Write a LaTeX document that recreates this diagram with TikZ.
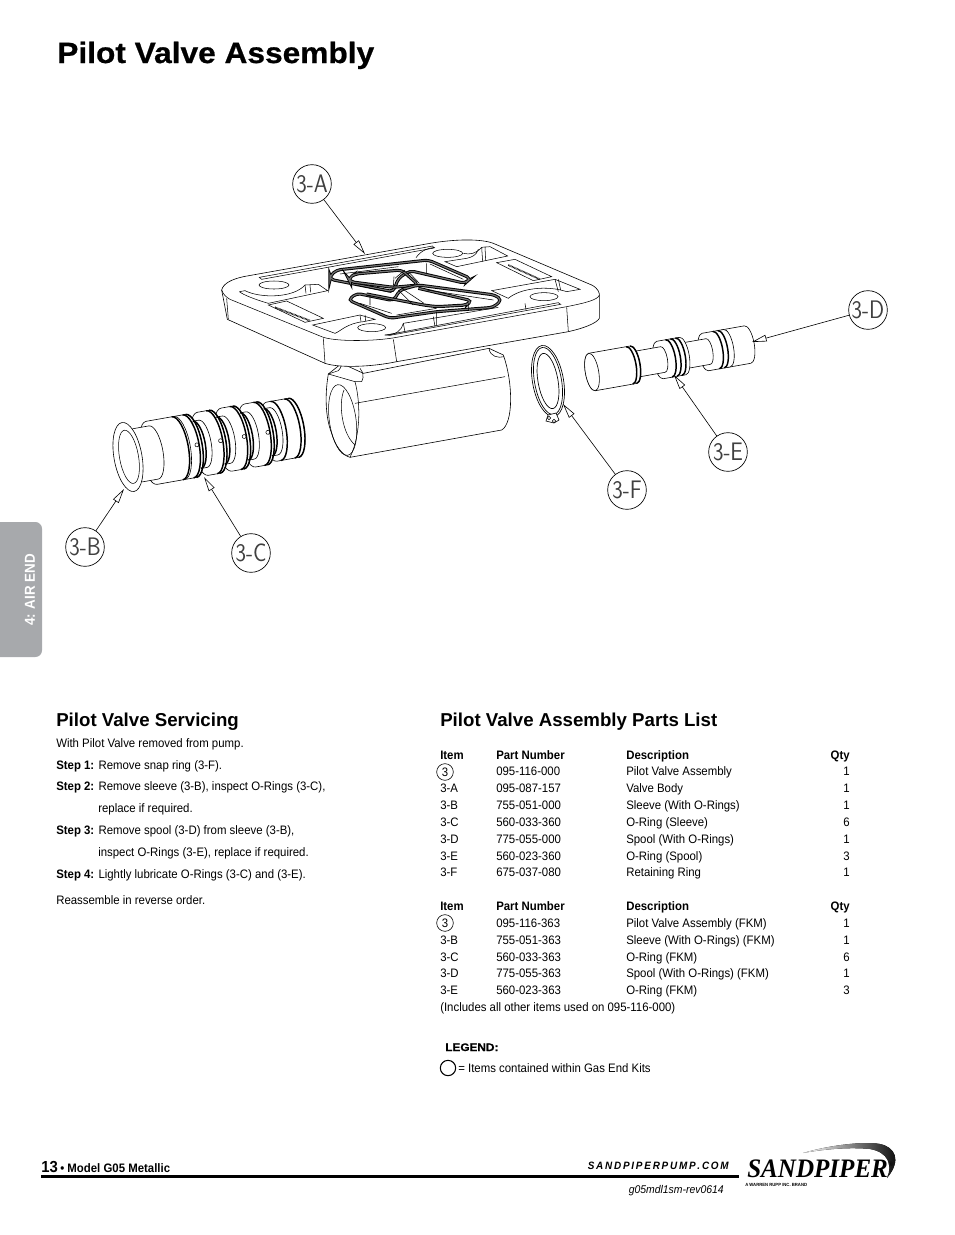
\documentclass[tikz,border=0pt]{standalone}
\usepackage{fontspec}
\setmainfont{Liberation Sans}
\newfontfamily\narrowfont[FakeStretch=0.93]{Liberation Sans}
\newfontfamily\titlefont[FakeStretch=1.08, BoldFeatures={FakeBold=0.7}]{Liberation Sans}
\newfontfamily\cadfont[FakeStretch=0.88]{Latin Modern Sans}
\newfontfamily\logofont[FakeStretch=0.94]{Liberation Serif}
\usetikzlibrary{arrows.meta}
\definecolor{tabgray}{HTML}{A7A9AC}
\tikzset{
  part/.style={draw=black, fill=white, line width=.45pt},
  edge/.style={draw=black, line width=.4pt},
  gasket/.style={draw=black, line width=.7pt, double=black!55, double distance=.9pt, rounded corners=3pt},
  callout/.style={draw=black, circle, line width=.5pt, fill=white, minimum size=29pt, inner sep=0pt, font=\cadfont\fontsize{19}{19}\selectfont, text=black!75},
  leader/.style={draw=black, line width=.45pt, -{Triangle[open, fill=white, length=11pt, width=5pt]}},
  txt/.style={anchor=base west, inner sep=0pt, font=\narrowfont\fontsize{9.2}{10}\selectfont},
  txtb/.style={txt, font=\narrowfont\bfseries\fontsize{9.2}{10}\selectfont},
  mark3/.style={draw=black, circle, line width=.45pt, minimum size=12.5pt, inner sep=0pt, font=\narrowfont\fontsize{9.2}{10}\selectfont},
}
% one section of a round part, far end bulging right
\newcommand{\barrel}[3]{
  \draw[part] (#1,-#3) -- (#2,-#3) arc[start angle=-90, end angle=90, x radius=.35*#3, y radius=#3]
    -- (#1,#3) arc[start angle=90, end angle=270, x radius=.35*#3, y radius=#3] -- cycle;
}
\newcommand{\oring}[2]{
  \draw[draw=black, line width=1.1pt] (#1,-#2) arc[start angle=-90, end angle=90, x radius=.35*#2, y radius=#2];
}
\begin{document}
\begin{tikzpicture}[x=.75pt, y=-.75pt]
\useasboundingbox (0,0) rectangle (954,1235);

% Title and side tab
\node[anchor=base west, inner sep=0pt, font=\titlefont\bfseries\fontsize{22}{24}\selectfont] (title) at (57,63) {Pilot Valve Assembly};
\fill[tabgray, rounded corners=5pt] (-10,522) rectangle (42,657);
\node[rotate=90, inner sep=0pt, text=white, font=\narrowfont\bfseries\fontsize{10.8}{11}\selectfont] (tab) at (30,590) {4: AIR END};

% Lower body
\begin{scope}[shift={(310,340)}, x=.25pt, y=-.25pt]
  \draw[part] (55,102) .. controls (45,160) and (45,230) .. (65,280) .. controls (75,315) and (95,345) .. (120,352) -- (575,270) .. controls (610,250) and (610,130) .. (580,45) -- (537,25) -- (160,100) -- (95,70) -- cycle;
  \draw[edge] (537,25) .. controls (540,50) and (565,55) .. (582,50);
  \draw[edge] (55,102) -- (85,92) .. controls (90,88) and (92,82) .. (95,75);
  \draw[edge] (55,102) -- (135,125) -- (155,125) .. controls (160,118) and (160,108) .. (158,98) -- (150,85);
  \draw[edge] (135,125) .. controls (150,180) and (155,280) .. (120,352);
  \draw[edge, rotate around={8:(98,240)}] (98,240) ellipse (40 and 107);
  \draw[edge] (102,150) .. controls (85,190) and (95,280) .. (135,315);
  \draw[edge] (135,190) -- (585,110);
\end{scope}

% Valve body plate
\begin{scope}[shift={(200,220)}, x=.25pt, y=-.25pt]
  \draw[part] (65,210) .. controls (70,190) and (95,178) .. (130,170) -- (690,70) .. controls (760,58) and (840,55) .. (880,70)
    -- (1175,195) .. controls (1195,205) and (1200,220) .. (1198,230) -- (1198,295) .. controls (1190,310) and (1150,325) .. (1105,335)
    -- (590,425) .. controls (520,440) and (420,445) .. (375,430) -- (82,298) -- cycle;
  \draw[edge] (65,210) .. controls (70,225) and (80,232) .. (90,238) -- (365,350) .. controls (400,365) and (520,365) .. (590,352)
    -- (1100,260) .. controls (1150,250) and (1195,240) .. (1198,225);
  \draw[edge] (80,235) -- (85,298) (370,355) -- (375,430) (580,358) -- (590,425) (1100,262) -- (1105,335);
  % Slots
  \draw[edge] (178,172) -- (698,78) -- (702,84) -- (185,178) -- cycle;
  \draw[edge] (558,345) -- (1075,248) -- (1082,253) -- (570,346) -- cycle;
  % Holes
  \draw[edge] (222,195) ellipse (45 and 12) (743,100) ellipse (45 and 12) (1032,230) ellipse (42 and 12) (515,323) ellipse (42 and 12);
  % Pockets
  \draw[edge] (118,215) -- (135,212) .. controls (180,235) and (280,235) .. (315,195) -- (355,193) -- (383,212) -- (205,250) .. controls (170,240) and (130,225) .. (118,215);
  \draw[edge] (315,195) -- (318,220) (330,195) -- (332,217);
  \draw[edge] (648,113) .. controls (665,88) and (690,84) .. (705,82) (790,100) .. controls (810,105) and (830,100) .. (845,82) -- (870,80) -- (923,108) -- (770,140) -- (735,125) -- (800,115) .. controls (815,112) and (830,105) .. (835,88);
  \draw[edge] (845,82) -- (848,125) (855,80) -- (857,122);
  \draw[edge] (205,255) -- (260,243) -- (370,295) -- (315,307) -- cycle;
  \draw[draw=black, line width=1.3pt, dash pattern=on .5pt off .5pt] (225,262) -- (330,302);
  \draw[edge] (890,128) -- (945,118) -- (1055,170) -- (1000,182) -- cycle;
  \draw[draw=black, line width=1.3pt, dash pattern=on .5pt off .5pt] (925,135) -- (1020,178);
  \draw[edge] (875,212) -- (1065,178) -- (1140,208) -- (1100,215) .. controls (1040,195) and (960,205) .. (925,235) -- cycle;
  \draw[edge] (1065,178) -- (1075,215) (1075,178) -- (1082,210);
  \draw[edge] (338,315) -- (480,285) -- (525,298) -- (490,305) .. controls (440,310) and (420,335) .. (405,340) -- cycle;
  \draw[edge] (480,285) -- (483,305) (495,285) -- (497,303);
  \draw[edge] (555,345) .. controls (590,345) and (605,330) .. (610,310) -- (895,262);
  \draw[edge] (700,290) -- (705,320) (975,250) -- (978,270) (610,310) -- (615,335);
\end{scope}

% Gasket grooves
\begin{scope}[shift={(330,250)}, x=.25pt, y=-.25pt]
  \draw[gasket] (0,78) -- (20,60) -- (295,30) -- (422,85) -- (405,100) -- (240,62) -- (205,85) -- (190,125) -- (0,88) -- cycle;
  \draw[gasket] (55,85) -- (75,72) -- (215,60) -- (265,105) -- (190,112) -- (60,95) -- cycle;
  \draw[gasket] (55,150) -- (80,130) -- (190,152) -- (210,120) -- (265,105) -- (495,135) -- (515,150) -- (490,172) -- (320,185) -- (180,205) -- cycle;
  \draw[gasket] (110,132) -- (280,165) -- (320,170) -- (410,165) -- (425,152) -- (265,115);
  \draw[edge] (195,85) -- (225,60) (235,65) -- (268,100) (205,120) -- (250,165) (215,115) -- (282,160);
  \draw[edge] (192,80) -- (190,110) (120,135) -- (120,165) (290,40) -- (290,70) (320,185) -- (320,225) (415,160) -- (415,180);
  \draw[edge] (30,72) -- (205,50) (75,105) -- (185,128) (90,160) -- (185,190) (300,42) -- (400,88) (290,120) -- (490,150) (200,195) -- (320,175);
\end{scope}

% Sleeve
\begin{scope}[shift={(128,457)}, rotate=10]
  \barrel{146}{168}{30}
  \oring{168}{30}
  \oring{164}{30}
  \oring{150}{30}
  \foreach \xa in {124,100,76,52}{
    \barrel{\xa+10}{\xa+24}{24}
    \barrel{\xa}{\xa+12}{32}
    \oring{\xa+12}{32}
    \oring{\xa+9}{32}
    \oring{\xa+18}{24}
  }
  \barrel{24}{52}{32}
  \oring{50}{32}
  \barrel{10}{26}{27}
  \draw[part] (0,0) ellipse (14 and 35);
  \draw[edge] (1,0) ellipse (9.5 and 27);
  \foreach \xh in {52,76,100,124}
    \draw[edge] (\xh+18,0) circle (2);
\end{scope}

% Retaining ring
\begin{scope}[shift={(548,381)}, rotate=10]
  \draw[edge, line width=.5pt] (0,0) ellipse (15.5 and 36);
  \draw[edge, line width=.5pt] (0,0) ellipse (13.5 and 34);
  \draw[edge, line width=.5pt] (0,0) ellipse (10 and 28);
\end{scope}
\draw[part] (548,415) -- (556,413) -- (559,420) -- (554,423) -- (546,421) -- cycle;
\draw[edge] (549,418) circle (1.8) (554,421) circle (1.8);

% Spool
\begin{scope}[shift={(592,372)}, rotate=10]
  \barrel{135}{158}{19}
  \barrel{115}{137}{19}
  \oring{131}{19}
  \oring{126}{19}
  \barrel{92}{118}{13}
  \barrel{69}{92}{19}
  \oring{88}{19}
  \oring{83}{19}
  \oring{78}{19}
  \barrel{44}{72}{13}
  \barrel{0}{42}{19}
  \oring{42}{19}
  \oring{38}{19}
  \draw[part] (0,0) ellipse (6.7 and 19);
\end{scope}

% Callouts
\node[callout] (calloutA) at (312,184) {3-A};
\node[callout] (calloutD) at (868,310) {3-D};
\node[callout] (calloutE) at (728,452) {3-E};
\node[callout] (calloutF) at (627,490) {3-F};
\node[callout] (calloutB) at (85,547) {3-B};
\node[callout] (calloutC) at (251,553) {3-C};
\coordinate (tipA) at (365,254);
\coordinate (tipD) at (752,342);
\coordinate (tipE) at (674,375);
\coordinate (tipF) at (563,404);
\coordinate (tipB) at (124,489);
\coordinate (tipC) at (204,477);
\draw[leader] (calloutA) -- (tipA);
\draw[leader] (calloutD) -- (tipD);
\draw[leader] (calloutE) -- (tipE);
\draw[leader] (calloutF) -- (tipF);
\draw[leader] (calloutB) -- (tipB);
\draw[leader] (calloutC) -- (tipC);

% Servicing text
\node[anchor=base west, inner sep=0pt, font=\bfseries\fontsize{14}{15}\selectfont] (servhead) at (56,726) {Pilot Valve Servicing};
\node[txt] (serv0) at (56,747.3) {With Pilot Valve removed from pump.};
\node[txt] (serv1) at (56,769.3) {\textbf{Step 1:} Remove snap ring (3-F).};
\node[txt] (serv2) at (56,790.3) {\textbf{Step 2:} Remove sleeve (3-B), inspect O-Rings (3-C),};
\node[txt] (serv3) at (98,812.3) {replace if required.};
\node[txt] (serv4) at (56,834.3) {\textbf{Step 3:} Remove spool (3-D) from sleeve (3-B),};
\node[txt] (serv5) at (98,856.3) {inspect O-Rings (3-E), replace if required.};
\node[txt] (serv6) at (56,878.3) {\textbf{Step 4:} Lightly lubricate O-Rings (3-C) and (3-E).};
\node[txt] (serv7) at (56,904.3) {Reassemble in reverse order.};

% Parts list
\node[anchor=base west, inner sep=0pt, font=\bfseries\fontsize{14}{15}\selectfont] (listhead) at (440,726) {Pilot Valve Assembly Parts List};
\foreach \rowy in {759.3,910.3}{
  \node[txtb] (item\rowy) at (440,\rowy) {Item};
  \node[txtb] (num\rowy) at (496,\rowy) {Part Number};
  \node[txtb] (desc\rowy) at (626,\rowy) {Description};
  \node[txtb, anchor=base east] (qty\rowy) at (850,\rowy) {Qty};
}
\node[mark3] (three1) at (445,772) {3};
\node[mark3] (three2) at (445,923) {3};
\foreach \rowy/\itm/\num/\desc/\qty in {
  775.3//095-116-000/Pilot Valve Assembly/1,
  792.3/3-A/095-087-157/Valve Body/1,
  809.3/3-B/755-051-000/Sleeve (With O-Rings)/1,
  826.3/3-C/560-033-360/O-Ring (Sleeve)/6,
  843.3/3-D/775-055-000/Spool (With O-Rings)/1,
  860.3/3-E/560-023-360/O-Ring (Spool)/3,
  876.3/3-F/675-037-080/Retaining Ring/1,
  927.3//095-116-363/Pilot Valve Assembly (FKM)/1,
  944.3/3-B/755-051-363/Sleeve (With O-Rings) (FKM)/1,
  961.3/3-C/560-033-363/O-Ring (FKM)/6,
  977.3/3-D/775-055-363/Spool (With O-Rings) (FKM)/1,
  994.3/3-E/560-023-363/O-Ring (FKM)/3}{
  \node[txt] (itm\rowy) at (440,\rowy) {\itm};
  \node[txt] (num\rowy) at (496,\rowy) {\num};
  \node[txt] (desc\rowy) at (626,\rowy) {\desc};
  \node[txt, anchor=base east] (qty\rowy) at (850,\rowy) {\qty};
}
\node[txt] (incl) at (440,1011.3) {(Includes all other items used on 095-116-000)};

% Legend
\node[anchor=base west, inner sep=0pt, font=\titlefont\bfseries\fontsize{8.2}{10}\selectfont] (legend) at (445,1051) {LEGEND:};
\node[draw=black, circle, line width=.8pt, minimum size=11.5pt, inner sep=0pt] (legmark) at (448,1068) {};
\node[txt] (legtext) at (458,1072.3) {= Items contained within Gas End Kits};

% Footer
\node[anchor=base west, inner sep=0pt, font=\narrowfont\bfseries\fontsize{12}{13}\selectfont] (pagenum) at (41,1172) {13};
\node[anchor=base west, inner sep=0pt, font=\narrowfont\bfseries\fontsize{9.2}{10}\selectfont] (model) at (60,1172) {• Model G05 Metallic};
\node[anchor=base east, inner sep=0pt, font=\narrowfont\bfseries\itshape\fontsize{8}{10}\selectfont] (site) at (729,1169) {S\,A\,N\,D\,P\,I\,P\,E\,R\,P\,U\,M\,P\,.\,C\,O\,M};
\node[anchor=base east, inner sep=0pt, font=\narrowfont\itshape\fontsize{8.4}{10}\selectfont] (rev) at (724,1193) {g05mdl1sm-rev0614};
\fill[black] (41,1175) rectangle (739,1178);

% Logo
\fill[left color=white, right color=black] (803,1153) .. controls (830,1145) and (865,1141) .. (880,1144) .. controls (895,1147) and (902,1160) .. (887,1178) .. controls (893,1165) and (888,1152) .. (870,1149) .. controls (850,1147) and (825,1149) .. (803,1153) -- cycle;
\node[anchor=base west, inner sep=0pt, font=\logofont\bfseries\itshape\fontsize{20}{22}\selectfont] (logo) at (747,1177) {SANDPIPER};
\node[anchor=base west, inner sep=0pt, font=\logofont\fontsize{5}{5}\selectfont] (regmark) at (888,1166) {®};
\node[anchor=base west, inner sep=0pt, font=\narrowfont\bfseries\fontsize{3.4}{4}\selectfont] (brand) at (745,1186) {A WARREN RUPP INC. BRAND};
\end{tikzpicture}
\end{document}
